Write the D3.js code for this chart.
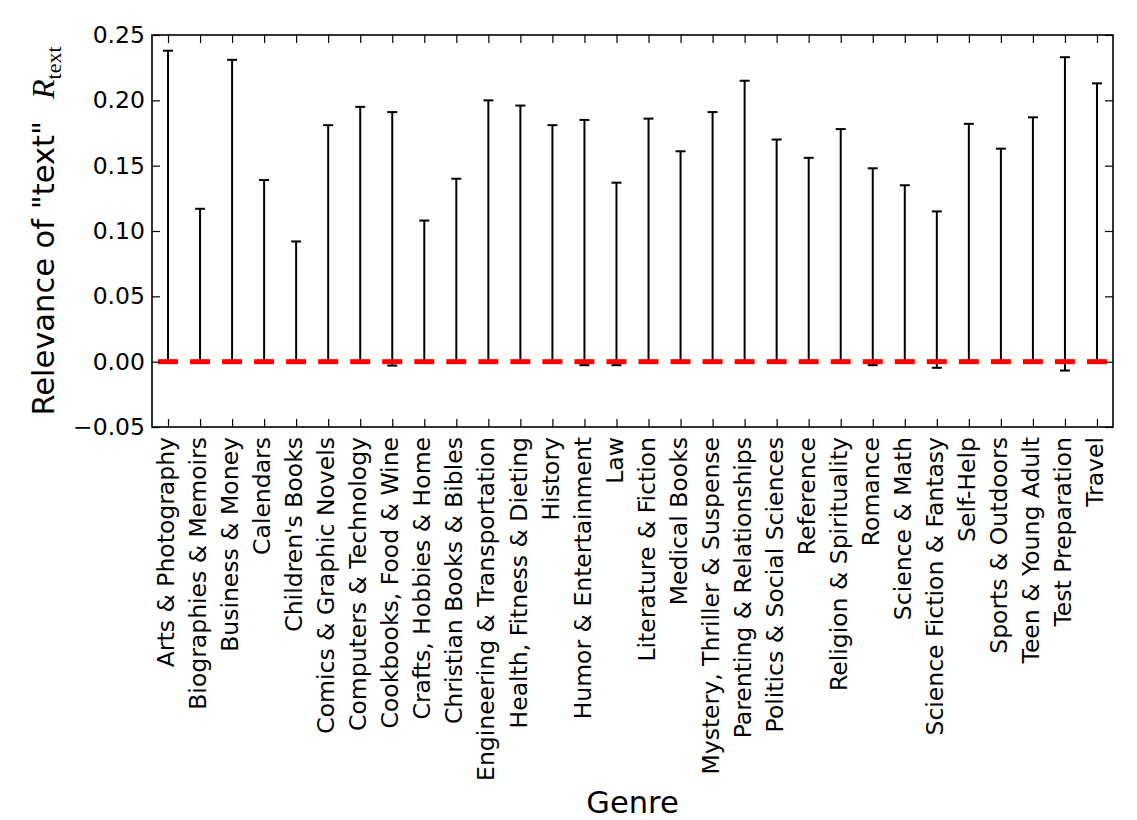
<!DOCTYPE html>
<html>
<head>
<meta charset="utf-8">
<script src="https://cdn.jsdelivr.net/npm/d3@7"></script>
<style>
  body { margin: 0; background: #fff; }
  text { font-family: "DejaVu Sans", sans-serif; }
</style>
</head>
<body>
<div class="chart"></div>
<script>
// --- DATA --- //
const genres = [
    "Arts & Photography", "Biographies & Memoirs", "Business & Money", "Calendars",
    "Children's Books", "Comics & Graphic Novels", "Computers & Technology",
    "Cookbooks, Food & Wine", "Crafts, Hobbies & Home", "Christian Books & Bibles",
    "Engineering & Transportation", "Health, Fitness & Dieting", "History",
    "Humor & Entertainment", "Law", "Literature & Fiction", "Medical Books",
    "Mystery, Thriller & Suspense", "Parenting & Relationships",
    "Politics & Social Sciences", "Reference", "Religion & Spirituality", "Romance",
    "Science & Math", "Science Fiction & Fantasy", "Self-Help", "Sports & Outdoors",
    "Teen & Young Adult", "Test Preparation", "Travel"
];

// mean relevance (red dashes)
const means = [
    0, 0, 0, 0, 0, 0, 0, 0, 0, 0,
    0, 0, 0, 0, 0, 0, 0, 0, 0, 0,
    0, 0, 0, 0, 0, 0, 0, 0, 0, 0
];

// top of each error bar
const upper = [
    0.238, 0.117, 0.231, 0.139, 0.092, 0.181, 0.195, 0.191, 0.108, 0.140,
    0.200, 0.196, 0.181, 0.185, 0.137, 0.186, 0.161, 0.191, 0.215, 0.170,
    0.156, 0.178, 0.148, 0.135, 0.115, 0.182, 0.163, 0.187, 0.233, 0.213
];

// bottom of each error bar
const lower = [
    -0.001, -0.001, -0.001, -0.001, -0.001, -0.001, -0.001, -0.003, -0.001, -0.001,
    -0.001, -0.001, -0.001, -0.0027, -0.0027, -0.001, -0.001, -0.001, -0.001, -0.001,
    -0.001, -0.001, -0.0027, -0.001, -0.0047, -0.001, -0.001, -0.001, -0.0068, -0.001
];

const yTicks = [-0.05, 0.00, 0.05, 0.10, 0.15, 0.20, 0.25];

// --- SETUP --- //
const width = 1137;
const height = 820;
const margin = {top: 35, right: 24, bottom: 393, left: 152};
const innerW = width - margin.left - margin.right;
const innerH = height - margin.top - margin.bottom;

const svg = d3.select('.chart').append('svg')
    .attr('width', width)
    .attr('height', height)
    .attr('viewBox', [0, 0, width, height]);

const g = svg.append('g')
    .attr('transform', `translate(${margin.left},${margin.top})`);

const x = d3.scaleLinear()
    .domain([-0.5, genres.length - 0.5])
    .range([0, innerW]);

const y = d3.scaleLinear()
    .domain([-0.05, 0.25])
    .range([innerH, 0]);

const idx = d3.range(genres.length);

// --- ERROR BARS --- //
const bars = g.append('g').selectAll('g')
    .data(idx)
    .join('g');

bars.append('line')
    .attr('x1', i => x(i)).attr('x2', i => x(i))
    .attr('y1', i => y(lower[i])).attr('y2', i => y(upper[i]))
    .attr('stroke', 'black')
    .attr('stroke-width', 2);

bars.append('line')
    .attr('x1', i => x(i) - 5).attr('x2', i => x(i) + 5)
    .attr('y1', i => y(upper[i])).attr('y2', i => y(upper[i]))
    .attr('stroke', 'black')
    .attr('stroke-width', 2);

bars.append('line')
    .attr('x1', i => x(i) - 5).attr('x2', i => x(i) + 5)
    .attr('y1', i => y(lower[i])).attr('y2', i => y(lower[i]))
    .attr('stroke', 'black')
    .attr('stroke-width', 2);

// red mean markers
bars.append('line')
    .attr('x1', i => x(i) - 10).attr('x2', i => x(i) + 10)
    .attr('y1', i => y(means[i])).attr('y2', i => y(means[i]))
    .attr('stroke', 'red')
    .attr('stroke-width', 5);

// --- AXES --- //
const tickLen = 8;

const yAxis = g.append('g')
    .call(d3.axisLeft(y).tickValues(yTicks).tickFormat(d3.format('.2f'))
        .tickSizeInner(-tickLen).tickSizeOuter(0).tickPadding(7));

g.append('g')
    .attr('transform', `translate(${innerW},0)`)
    .call(d3.axisRight(y).tickValues(yTicks).tickFormat('')
        .tickSizeInner(-tickLen).tickSizeOuter(0));

g.append('g')
    .call(d3.axisTop(x).tickValues(idx).tickFormat('')
        .tickSizeInner(-tickLen).tickSizeOuter(0));

const xAxis = g.append('g')
    .attr('transform', `translate(0,${innerH})`)
    .call(d3.axisBottom(x).tickValues(idx).tickFormat(i => genres[i])
        .tickSizeInner(-tickLen).tickSizeOuter(0));

g.selectAll('.domain').remove();
g.selectAll('.tick line').attr('stroke', 'black').attr('stroke-width', 1.2);

yAxis.selectAll('text')
    .attr('font-size', 23.5)
    .attr('font-family', '"DejaVu Sans", sans-serif')
    .attr('fill', 'black');

xAxis.selectAll('text')
    .attr('font-size', 23.5)
    .attr('font-family', '"DejaVu Sans", sans-serif')
    .attr('fill', 'black')
    .attr('text-anchor', 'end')
    .attr('transform', 'rotate(-90)')
    .attr('x', -10)
    .attr('y', 0)
    .attr('dy', '0.24em');

// frame
g.append('rect')
    .attr('width', innerW)
    .attr('height', innerH)
    .attr('fill', 'none')
    .attr('stroke', 'black')
    .attr('stroke-width', 1.6);

// --- LABELS --- //
svg.append('text')
    .attr('x', margin.left + innerW / 2)
    .attr('y', 813)
    .attr('text-anchor', 'middle')
    .attr('font-size', 30.5)
    .text('Genre');

const yLab = svg.append('text')
    .attr('transform', `translate(54,${margin.top + innerH / 2}) rotate(-90)`)
    .attr('text-anchor', 'middle')
    .attr('font-size', 30.5);

yLab.append('tspan').text('Relevance of "text"');
yLab.append('tspan')
    .attr('dx', 22)
    .attr('font-family', '"Liberation Serif", serif')
    .attr('font-style', 'italic')
    .attr('font-size', 32)
    .text('R');
yLab.append('tspan')
    .attr('dy', 7)
    .attr('font-family', '"Liberation Serif", serif')
    .attr('font-size', 22)
    .text('text');
</script>
</body>
</html>
